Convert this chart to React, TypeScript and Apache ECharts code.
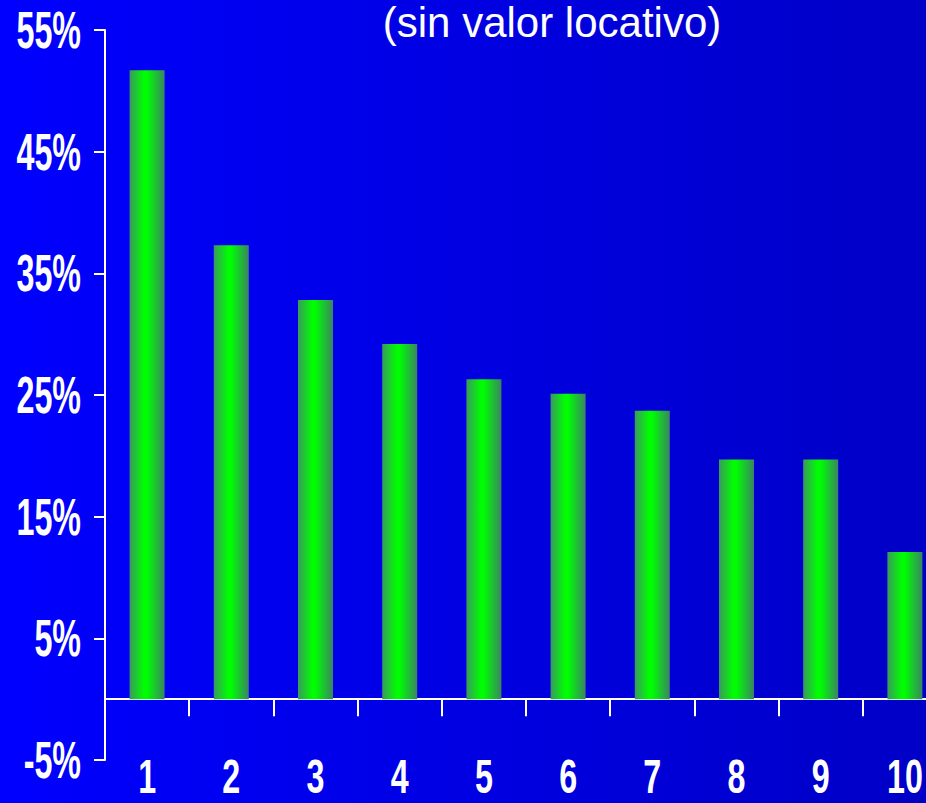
import React, { useEffect, useRef } from "react";
import * as echarts from "echarts";

const categories = ["1", "2", "3", "4", "5", "6", "7", "8", "9", "10"];
const values = [51.7, 37.3, 32.8, 29.2, 26.3, 25.1, 23.7, 19.7, 19.7, 12.1];
const yMin = -5;
const yMax = 55;
const yStep = 10;
const yTickValues = [-5, 5, 15, 25, 35, 45, 55];
const titleText = "(sin valor locativo)";

const labelFont = 'bold 44px "Liberation Sans", Arial, sans-serif';
const labelScaleX = 0.733;
const yLabelScaleY = 1.18;
const xLabelScaleY = 1.09;

export default function App() {
  const ref = useRef<HTMLDivElement>(null);

  useEffect(() => {
    const chart = echarts.init(ref.current!, null, { renderer: "svg" });
    const barGradient = new echarts.graphic.LinearGradient(0, 0, 1, 0, [
      { offset: 0, color: "#3a9a5e" },
      { offset: 0.42, color: "#00ff00" },
      { offset: 0.5, color: "#00fc04" },
      { offset: 1, color: "#3b8462" },
    ]);
    const titleGraphic = {
      type: "text",
      x: 552,
      y: 22,
      style: {
        text: titleText,
        fill: "#ffffff",
        font: '42px "Liberation Sans", Arial, sans-serif',
        lineHeight: 40,
        textAlign: "center",
        textVerticalAlign: "middle",
      },
    };
    chart.setOption({
      animation: false,
      backgroundColor: "transparent",
      grid: {
        left: 105,
        right: -21,
        top: 30,
        bottom: 43,
        containLabel: false,
        outerBoundsMode: "none",
      },
      graphic: [titleGraphic],
      xAxis: {
        type: "category",
        data: categories,
        axisLine: { onZero: true, lineStyle: { color: "#ffffff", width: 2 } },
        axisTick: { show: true, length: 17, lineStyle: { color: "#ffffff", width: 2 } },
        axisLabel: { show: false },
        splitLine: { show: false },
      },
      yAxis: {
        type: "value",
        min: yMin,
        max: yMax,
        interval: yStep,
        axisLine: { show: true, lineStyle: { color: "#ffffff", width: 2 } },
        axisTick: { show: true, length: 11, lineStyle: { color: "#ffffff", width: 2 } },
        axisLabel: { show: false },
        splitLine: { show: false },
      },
      series: [
        {
          type: "bar",
          data: values,
          barWidth: 35,
          itemStyle: { color: barGradient },
        },
      ],
    });

    // Tick labels placed through the axes' own scales, drawn condensed.
    const gridRect = (chart as any)
      .getModel()
      .getComponent("grid", 0)
      .coordinateSystem.getRect();
    const gridLeft = gridRect.x as number;
    const bottomY = chart.convertToPixel({ yAxisIndex: 0 }, yMin) as number;

    const yLabels = yTickValues.map((v) => ({
      type: "text",
      x: gridLeft - 24,
      y: chart.convertToPixel({ yAxisIndex: 0 }, v) as number,
      scaleX: labelScaleX,
      scaleY: yLabelScaleY,
      style: {
        text: `${v}%`,
        fill: "#ffffff",
        font: labelFont,
        lineHeight: 36,
        textAlign: "right",
        textVerticalAlign: "middle",
      },
    }));
    const xLabels = categories.map((c) => ({
      type: "text",
      x: chart.convertToPixel({ xAxisIndex: 0 }, c) as number,
      y: bottomY + 17,
      scaleX: labelScaleX,
      scaleY: xLabelScaleY,
      style: {
        text: c,
        fill: "#ffffff",
        font: labelFont,
        lineHeight: 36,
        textAlign: "center",
        textVerticalAlign: "middle",
      },
    }));
    chart.setOption({ graphic: [titleGraphic, ...yLabels, ...xLabels] });

    return () => chart.dispose();
  }, []);

  return (
    <div
      style={{
        position: "fixed",
        left: 0,
        top: 0,
        width: 926,
        height: 803,
        overflow: "hidden",
        background: "linear-gradient(to right, #0000ff, #0000c6)",
      }}
    >
      <div ref={ref} style={{ width: 926, height: 803 }} />
    </div>
  );
}
